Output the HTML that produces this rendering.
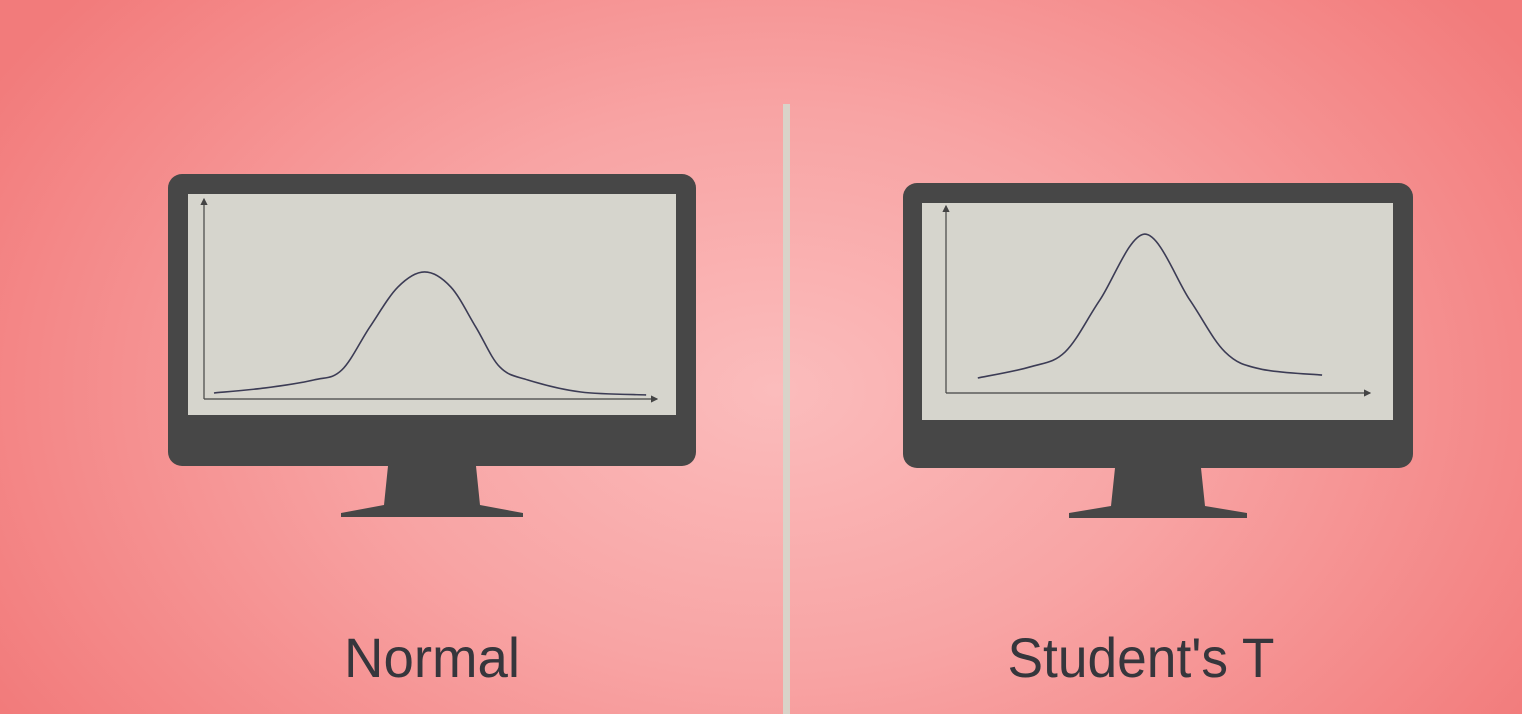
<!DOCTYPE html>
<html><head><meta charset="utf-8"><style>
html,body{margin:0;padding:0;width:1522px;height:714px;overflow:hidden}
body{background:radial-gradient(ellipse 900px 620px at 775px 390px,#fbbcbc 0%,#f8a4a4 45%,#f27b7b 100%)}
svg{position:absolute;left:0;top:0}
</style></head><body>
<svg width="1522" height="714">
<defs>
<marker id="ar" markerWidth="6" markerHeight="6" refX="5" refY="3" orient="auto"><path d="M0,0 L6,3 L0,6 z" fill="#444"/></marker>
</defs>
<rect x="783" y="104" width="7" height="610" fill="#d9d3c9"/>
<g>
<rect x="168" y="174" width="528" height="292" rx="14" fill="#474747"/>
<rect x="188" y="194" width="488" height="221" fill="#d6d5cd"/>
<path d="M388,466 L476,466 L480,505 L523,513 L523,517 L341,517 L341,513 L384,505 Z" fill="#474747"/>
</g>
<g>
<rect x="903" y="183" width="510" height="285" rx="14" fill="#474747"/>
<rect x="922" y="203" width="471" height="217" fill="#d6d5cd"/>
<path d="M1115,468 L1201,468 L1205,506 L1247,513 L1247,518 L1069,518 L1069,513 L1111,506 Z" fill="#474747"/>
</g>
<g id="chartL"></g>
<g id="chartR"></g>
<text x="432" y="677" text-anchor="middle" font-family="Liberation Sans, sans-serif" font-size="56" fill="#36363c" textLength="176" lengthAdjust="spacingAndGlyphs">Normal</text>
<text x="1141" y="677" text-anchor="middle" font-family="Liberation Sans, sans-serif" font-size="56" fill="#36363c" textLength="267" lengthAdjust="spacingAndGlyphs">Student's T</text>
</svg>
<script>
const normalX=[0.22,1.35,2.42,3.04,3.66,4.28,4.87,5.45,6.00,6.53,7.15,8.32,9.76];
const normalY=[0.031,0.057,0.098,0.149,0.371,0.577,0.655,0.577,0.371,0.165,0.098,0.036,0.021];
const studentX=[0.75,1.98,2.81,3.63,4.69,5.75,6.58,7.41,8.87];
const studentY=[0.083,0.144,0.227,0.514,0.878,0.514,0.227,0.133,0.099];
const NS="http://www.w3.org/2000/svg";
function draw(gid,ax,xs,ys,nm){
  const g=document.getElementById(gid);
  const sx=v=>ax.x0+v/10*(ax.x1-ax.x0);
  const sy=v=>ax.y0-v*(ax.y0-ax.yTop);
  const yA=document.createElementNS(NS,'line');
  
  
  yA.setAttribute('x1',ax.x0);yA.setAttribute('y1',ax.y0);yA.setAttribute('x2',ax.x0);yA.setAttribute('y2',ax.yTop-6);
  yA.setAttribute('stroke','#444');yA.setAttribute('stroke-width','1.2');yA.setAttribute('marker-end','url(#ar)');
  g.appendChild(yA);
  const xA=document.createElementNS(NS,'line');
  
  
  xA.setAttribute('x1',ax.x0);xA.setAttribute('y1',ax.y0);xA.setAttribute('x2',ax.x1);xA.setAttribute('y2',ax.y0);
  xA.setAttribute('stroke','#444');xA.setAttribute('stroke-width','1.2');xA.setAttribute('marker-end','url(#ar)');
  g.appendChild(xA);
  const P=xs.map((x,i)=>[sx(x),sy(ys[i])]);
  let d='M'+P[0][0]+','+P[0][1];
  for(let i=0;i<P.length-1;i++){
    const p0=P[i-1]||P[i],p1=P[i],p2=P[i+1],p3=P[i+2]||P[i+1];
    const c1=[p1[0]+(p2[0]-p0[0])/6,p1[1]+(p2[1]-p0[1])/6];
    const c2=[p2[0]-(p3[0]-p1[0])/6,p2[1]-(p3[1]-p1[1])/6];
    d+=' C'+c1+' '+c2+' '+p2;
  }
  const c=document.createElementNS(NS,'path');
  
  
  c.setAttribute('d',d);c.setAttribute('fill','none');c.setAttribute('stroke','#3c3c55');c.setAttribute('stroke-width','1.6');
  g.appendChild(c);
}
draw('chartL',{x0:204,x1:657,y0:399,yTop:205},normalX,normalY,'normal');
draw('chartR',{x0:946,x1:1370,y0:393,yTop:212},studentX,studentY,'students-t');
</script>
</body></html>
